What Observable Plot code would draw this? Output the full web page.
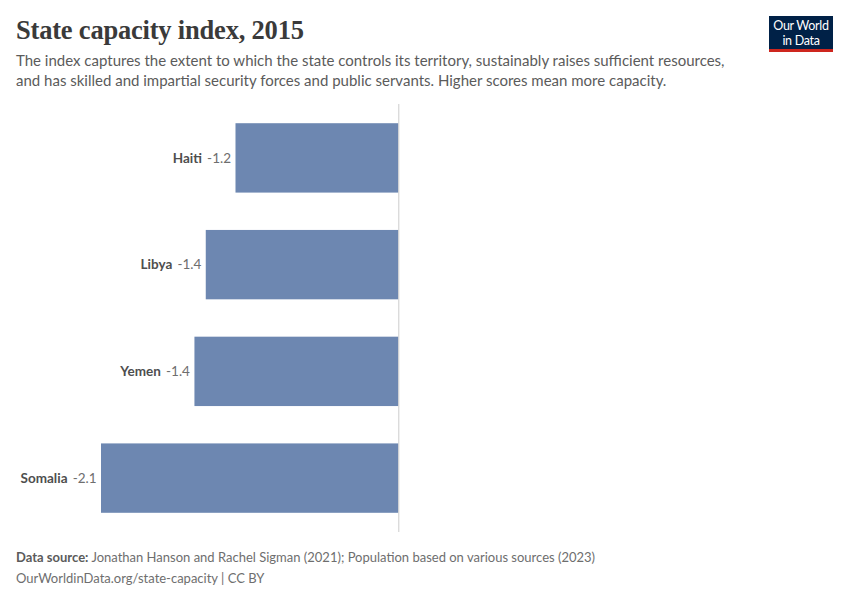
<!DOCTYPE html>
<html>
<head>
<meta charset="utf-8">
<script src="https://cdn.jsdelivr.net/npm/d3@7"></script>
<script src="https://cdn.jsdelivr.net/npm/@observablehq/plot@0.6"></script>
<style>
  html, body { margin: 0; padding: 0; background: #fff; }
  #wrap { position: relative; width: 850px; height: 600px; font-family: Lato, "Noto Sans", sans-serif; }
  #title { position: absolute; left: 16px; top: 15px; font-family: "Liberation Serif", "DejaVu Serif", serif; font-weight: 700; font-size: 26.5px; color: #3a3a3a; letter-spacing: -0.2px; }
  #subtitle { position: absolute; left: 16px; top: 51px; width: 725px; font-size: 15px; line-height: 19.5px; color: #5b5b5b; }
  #logo { position: absolute; left: 769px; top: 16px; width: 64px; height: 31px; padding-top: 2px; background: #002147; border-bottom: 3px solid #ce261e; color: #fff; font-size: 12.5px; line-height: 15px; text-align: center; letter-spacing: -0.3px; }
  #chart { position: absolute; left: 0; top: 100px; }
  #footer { position: absolute; left: 16px; top: 547px; font-size: 13px; line-height: 21px; color: #6e6e6e; }
  #footer b { font-weight: 700; color: #5b5b5b; }
</style>
</head>
<body>
<div id="wrap">
  <div id="title">State capacity index, 2015</div>
  <div id="subtitle">The index captures the extent to which the state controls its territory, sustainably raises sufficient resources, and has skilled and impartial security forces and public servants. Higher scores mean more capacity.</div>
  <div id="logo">Our World<br>in Data</div>
  <div id="chart"></div>
  <div id="footer"><b>Data source:</b> Jonathan Hanson and Rachel Sigman (2021); Population based on various sources (2023)<br>OurWorldinData.org/state-capacity | CC BY</div>
</div>
<script>
const countries = ["Haiti", "Libya", "Yemen", "Somalia"];
const values = [-1.15, -1.36, -1.44, -2.1];
const valueLabels = ["-1.2", "-1.4", "-1.4", "-2.1"];

const data = countries.map((c, i) => ({country: c, value: values[i], label: valueLabels[i]}));

const chart = Plot.plot({
  width: 850,
  height: 440,
  marginTop: 4,
  marginBottom: 8,
  marginLeft: 0,
  marginRight: 0,
  x: {domain: [-2.1, 0], range: [101, 398.3], axis: null},
  y: {domain: countries, axis: null, paddingInner: 0.35, paddingOuter: 0.18, round: false},
  marks: [
    Plot.barX(data, {x: "value", y: "country", fill: "#6d87b1"}),
    Plot.ruleX([0], {stroke: "#cccccc", strokeWidth: 1}),
    Plot.text(data, {x: "value", y: "country", text: "label", textAnchor: "end", dx: -5, fill: "#6e6e6e", fontSize: 13.5, fontFamily: "Lato"}),
    Plot.text(data, {x: "value", y: "country", text: "country", textAnchor: "end", dx: -34, fill: "#4e4e4e", fontSize: 13.5, fontWeight: 700, fontFamily: "Lato"})
  ]
});
document.getElementById("chart").appendChild(chart);
</script>
</body>
</html>
